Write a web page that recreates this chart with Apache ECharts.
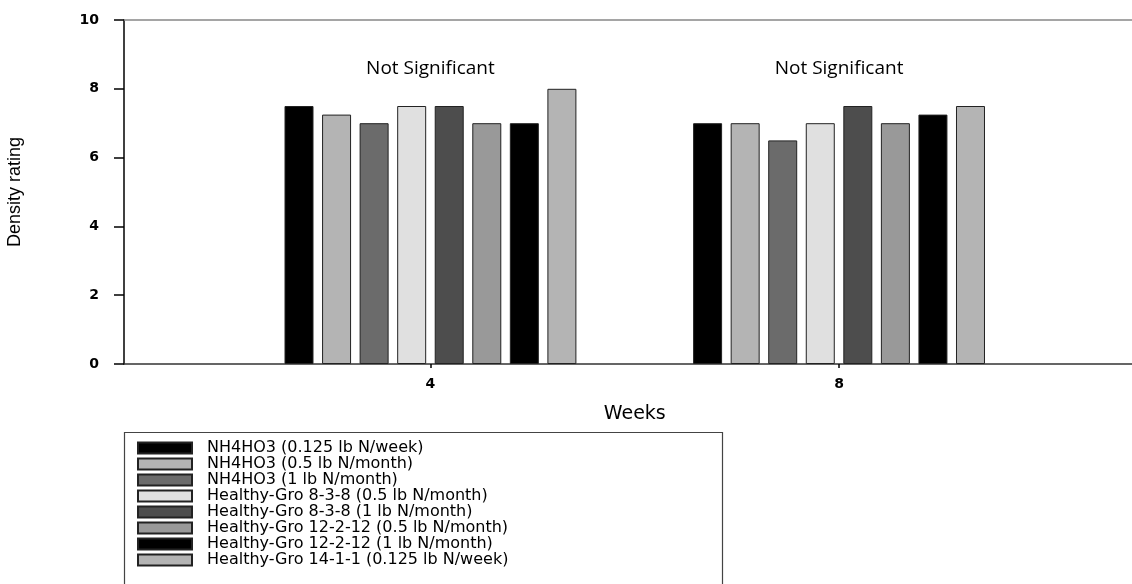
<!DOCTYPE html>
<html>
<head>
<meta charset="utf-8">
<script src="https://cdn.jsdelivr.net/npm/echarts@6/dist/echarts.min.js"></script>
<style>html,body{margin:0;padding:0;background:#fff}#c{width:1132px;height:584px}</style>
</head>
<body>
<div id="c"></div>
<script>
const weeks = [4, 8];
const seriesNames = [
  'NH4HO3 (0.125 lb N/week)',
  'NH4HO3 (0.5 lb N/month)',
  'NH4HO3 (1 lb N/month)',
  'Healthy-Gro 8-3-8 (0.5 lb N/month)',
  'Healthy-Gro 8-3-8 (1 lb N/month)',
  'Healthy-Gro 12-2-12 (0.5 lb N/month)',
  'Healthy-Gro 12-2-12 (1 lb N/month)',
  'Healthy-Gro 14-1-1 (0.125 lb N/week)'
];
const week4Values = [7.5, 7.25, 7.0, 7.5, 7.5, 7.0, 7.0, 8.0];
const week8Values = [7.0, 7.0, 6.5, 7.0, 7.5, 7.0, 7.25, 7.5];
const colors = ['#000000', '#b4b4b4', '#6b6b6b', '#e0e0e0', '#4d4d4d', '#999999', '#000000', '#b4b4b4'];
const yTicks = [0, 2, 4, 6, 8, 10];
const annotation = 'Not Significant';
const annotationY = 8.6;

const chart = echarts.init(document.getElementById('c'));
const series = seriesNames.map((name, i) => ({
  name: name,
  type: 'bar',
  barWidth: 29,
  barGap: '29.5%',
  data: [[weeks[0], week4Values[i]], [weeks[1], week8Values[i]]],
  itemStyle: { color: colors[i], borderColor: '#222', borderWidth: 1 }
}));
series.push({
  name: 'annotation',
  type: 'scatter',
  symbolSize: 0,
  silent: true,
  data: weeks.map(w => [w, annotationY]),
  itemStyle: { color: '#000', opacity: 1 },
  label: { show: true, position: 'inside', formatter: annotation, color: '#000', opacity: 1,
    textBorderWidth: 0, fontFamily: 'Open Sans', fontSize: 19 }
});

chart.setOption({
  animation: false,
  backgroundColor: '#fff',
  grid: { left: 124, right: -13.5, top: 20, bottom: 220, outerBoundsMode: 'none', containLabel: false },
  xAxis: [{
    type: 'value', min: 1, max: 11,
    name: 'Weeks', nameLocation: 'middle', nameGap: 41,
    nameTextStyle: { fontFamily: 'DejaVu Sans', fontSize: 19, color: '#000' },
    axisLine: { show: true, lineStyle: { color: '#333', width: 1.5 } },
    axisTick: { show: true, customValues: weeks, length: 4, lineStyle: { color: '#000', width: 1.5 } },
    axisLabel: { customValues: weeks, margin: 13, fontFamily: 'DejaVu Sans', fontSize: 14, fontWeight: 'bold', color: '#000' },
    splitLine: { show: false }
  }, {
    type: 'value', min: 1, max: 11, position: 'top',
    axisLine: { show: true, lineStyle: { color: '#888', width: 1.5 } },
    axisTick: { show: false }, axisLabel: { show: false }, splitLine: { show: false }
  }],
  yAxis: {
    type: 'value', min: 0, max: 10, interval: 2,
    name: 'Density rating', nameLocation: 'middle', nameGap: 100, nameRotate: 90,
    nameTextStyle: { fontFamily: 'Liberation Sans', fontSize: 18, color: '#000' },
    axisLine: { show: true, lineStyle: { color: '#000', width: 1.5 } },
    axisTick: { show: true, length: 10, lineStyle: { color: '#000', width: 1.5 } },
    axisLabel: { margin: 25, fontFamily: 'DejaVu Sans', fontSize: 14, fontWeight: 'bold', color: '#000',
      formatter: v => yTicks.includes(v) ? String(v) : '' },
    splitLine: { show: false }
  },
  legend: {
    orient: 'vertical', left: 137, top: 440,
    itemWidth: 54, itemHeight: 11, itemGap: 0,
    icon: 'rect',
    padding: 0,
    textStyle: { fontFamily: 'DejaVu Sans', fontSize: 16, color: '#000', lineHeight: 15.7, padding: [0, 0, 0, 10] },
    data: seriesNames
  },
  graphic: [{
    type: 'rect', left: 122, top: 430,
    shape: { width: 598, height: 170 },
    style: { fill: 'none', stroke: '#444', lineWidth: 1.2 }
  }],
  series: series
});
</script>
</body>
</html>
